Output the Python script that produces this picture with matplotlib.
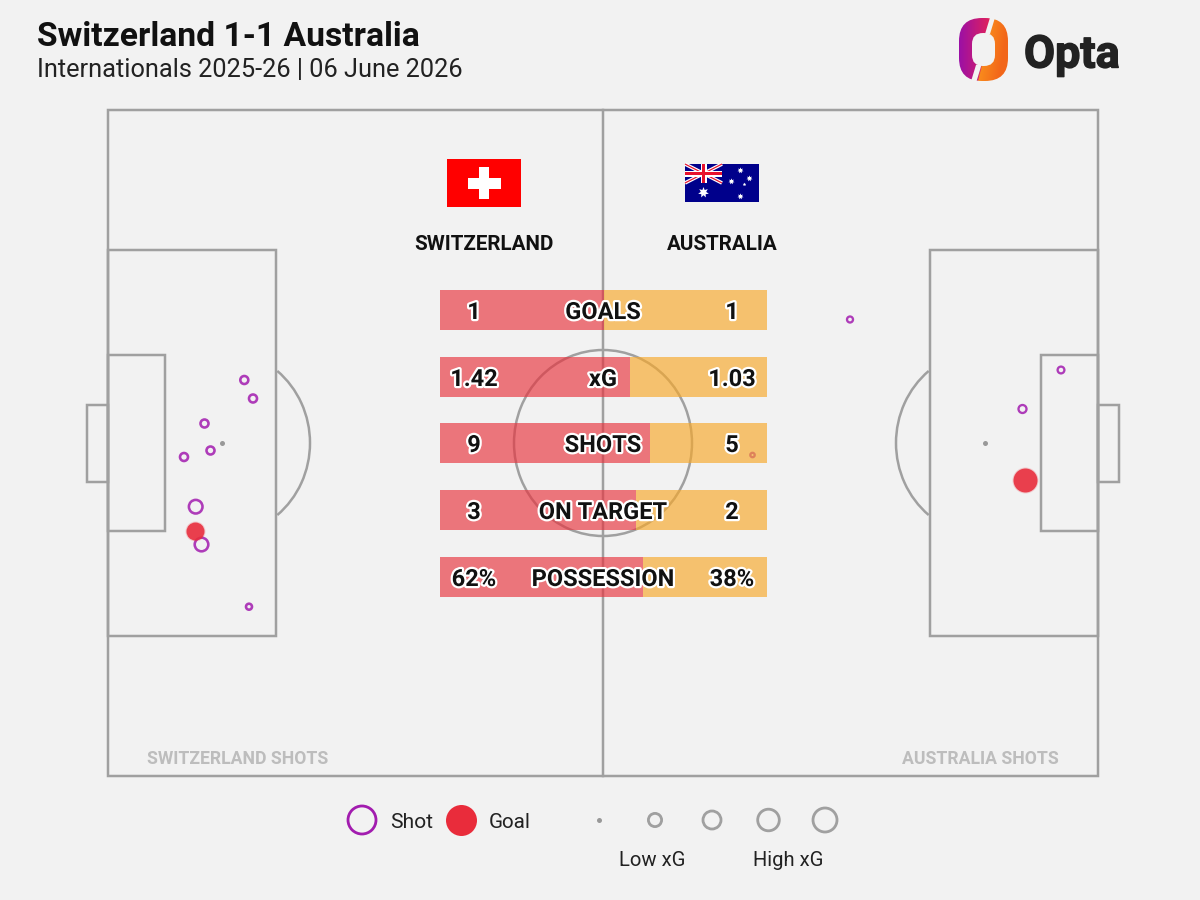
import numpy as np
import matplotlib
matplotlib.use("Agg")
import matplotlib.pyplot as plt
from matplotlib.patches import Rectangle, Arc, PathPatch, Polygon
from matplotlib.path import Path
import matplotlib.patheffects as pe

# ---- data ----
stat_names = ["GOALS", "xG", "SHOTS", "ON TARGET", "POSSESSION"]
home_values = [1, 1.42, 9, 3, 62]
away_values = [1, 1.03, 5, 2, 38]
home_labels = ["1", "1.42", "9", "3", "62%"]
away_labels = ["1", "1.03", "5", "2", "38%"]
stat_rows = [310, 377, 443, 510, 577]

home_shot_x = [244.3, 253, 204.5, 210.5, 184, 195.7, 201.5, 249, 221.5]
home_shot_y = [380, 398.5, 423.5, 450.5, 457, 506.7, 544.5, 606.7, 443]
home_shot_r = [4, 4, 4, 4, 4, 6.8, 6.8, 3, 2.5]
home_goal_x = [194.7]
home_goal_y = [531]
home_goal_r = [9]

away_shot_x = [850, 1061, 1022.5, 752.5, 984.5]
away_shot_y = [319.5, 370, 409, 455, 443]
away_shot_r = [3, 3.4, 4, 2.2, 2.5]
away_goal_x = [1025]
away_goal_y = [480]
away_goal_r = [12]

legend_size_x = [598.5, 655, 712, 768.5, 825]
legend_size_r = [2.5, 6.6, 9, 10.8, 12]

BG = "#F2F2F2"
LINE = "#A0A0A0"
PURPLE = "#A21CAF"
RED = "#E92C3B"
PX = 0.72
LW = 2.5 * PX
FONT = "Roboto"

fig = plt.figure(figsize=(12, 9), dpi=100, facecolor=BG)
ax = fig.add_axes([0, 0, 1, 1], facecolor=BG)
ax.set_xlim(0, 1200)
ax.set_ylim(900, 0)
ax.axis("off")


def rect(x0, y0, x1, y1, **kw):
    kw.setdefault("fill", False)
    kw.setdefault("ec", LINE)
    kw.setdefault("lw", LW)
    kw.setdefault("zorder", 1)
    p = Rectangle((x0, y0), x1 - x0, y1 - y0, **kw)
    ax.add_patch(p)
    return p


# ---- pitch ----
rect(108, 110, 1098, 776)
ax.plot([603, 603], [110, 776], color=LINE, lw=LW, zorder=1)
rect(108, 250, 276, 636)
rect(108, 355, 165, 531)
rect(87, 405, 108, 482)
rect(930, 250, 1098, 636)
rect(1041, 355, 1098, 531)
rect(1098, 405, 1119, 482)
ax.add_patch(Arc((603, 443), 178, 186, ec=LINE, lw=LW, zorder=1))
ax.add_patch(Arc((221, 443), 178, 186, theta1=-52, theta2=52, ec=LINE, lw=LW, zorder=1))
ax.add_patch(Arc((985, 443), 178, 186, theta1=128, theta2=232, ec=LINE, lw=LW, zorder=1))


def circles(xs, ys, rs, **kw):
    for x, y, r in zip(xs, ys, rs):
        s = (2 * r * PX) ** 2
        if r <= 2.5 and x not in (752.5,):
            ax.scatter([x], [y], s=s, color="#999999", lw=0, zorder=kw.get("zorder", 2))
        else:
            ax.scatter([x], [y], s=s, **kw)


# ---- shots ----
circles(home_shot_x, home_shot_y, home_shot_r, facecolor="none", edgecolor=PURPLE,
        linewidth=2.6 * PX, alpha=0.85, zorder=2)
circles(away_shot_x, away_shot_y, away_shot_r, facecolor="none", edgecolor=PURPLE,
        linewidth=2.3 * PX, alpha=0.85, zorder=2)
for gx, gy, gr in zip(home_goal_x + away_goal_x, home_goal_y + away_goal_y, home_goal_r + away_goal_r):
    ax.scatter([gx], [gy], s=(2 * (gr + 1) * PX) ** 2, color=RED, alpha=0.2, lw=0, zorder=3)
    ax.scatter([gx], [gy], s=(2 * gr * PX) ** 2, color=RED, alpha=0.88, lw=0, zorder=3)

# ---- stat bars ----
BAR_L, BAR_R, BAR_H = 440, 767, 40
stroke = [pe.withStroke(linewidth=3.2, foreground="white")]
for name, h, a, hl, al, y in zip(stat_names, home_values, away_values, home_labels, away_labels, stat_rows):
    split = BAR_L + (BAR_R - BAR_L) * h / (h + a)
    rect(BAR_L, y - BAR_H / 2, split, y + BAR_H / 2, fill=True, fc="#E8323C", ec="none", lw=0, alpha=0.65, zorder=4)
    rect(split, y - BAR_H / 2, BAR_R, y + BAR_H / 2, fill=True, fc="#F8A828", ec="none", lw=0, alpha=0.65, zorder=4)
    for tx, t in ((474, hl), (603, name), (732, al)):
        ax.text(tx, y, t, ha="center", va="center_baseline", fontsize=23.6 * PX, fontweight="bold",
                family=FONT, color="#111111", path_effects=stroke, zorder=6)

# ---- team names ----
ax.text(484, 243, "SWITZERLAND", ha="center", va="center_baseline", fontsize=20.6 * PX,
        fontweight="bold", family=FONT, color="#111111", zorder=6)
ax.text(722, 243, "AUSTRALIA", ha="center", va="center_baseline", fontsize=20.6 * PX,
        fontweight="bold", family=FONT, color="#111111", zorder=6)

# ---- Swiss flag ----
rect(447, 159, 521, 207, fill=True, fc="#FF0000", ec="none", lw=0, zorder=5)
rect(467.5, 177.5, 500.5, 188.5, fill=True, fc="white", ec="none", lw=0, zorder=6)
rect(478.8, 166.8, 489.2, 199.3, fill=True, fc="white", ec="none", lw=0, zorder=6)

# ---- Australian flag ----
rect(685, 164, 759, 202, fill=True, fc="#00008B", ec="none", lw=0, zorder=5)
u = (685, 164, 722, 183)
ax.plot([u[0], u[2]], [u[1], u[3]], color="white", lw=3.6 * PX, zorder=6, solid_capstyle="butt")
ax.plot([u[0], u[2]], [u[3], u[1]], color="white", lw=3.6 * PX, zorder=6, solid_capstyle="butt")
ax.plot([u[0], u[2]], [u[1], u[3]], color="#E8112D", lw=1.2 * PX, zorder=6, solid_capstyle="butt")
ax.plot([u[0], u[2]], [u[3], u[1]], color="#E8112D", lw=1.2 * PX, zorder=6, solid_capstyle="butt")
rect(685, 170.5, 722, 176.5, fill=True, fc="white", ec="none", lw=0, zorder=6)
rect(700.5, 164, 706.5, 183, fill=True, fc="white", ec="none", lw=0, zorder=6)
rect(685, 172, 722, 175, fill=True, fc="#E8112D", ec="none", lw=0, zorder=6)
rect(702, 164, 705, 183, fill=True, fc="#E8112D", ec="none", lw=0, zorder=6)
ax.scatter([703], [192], marker=(7, 1), s=62, color="white", lw=0, zorder=6)
ax.scatter([740, 731, 748.7, 740], [170, 180.7, 178, 195.7], marker=(7, 1), s=20, color="white", lw=0, zorder=6)
ax.scatter([744], [184.3], marker=(5, 1), s=7, color="white", lw=0, zorder=6)

# ---- titles ----
ax.text(37, 33.5, "Switzerland 1-1 Australia", ha="left", va="center_baseline", fontsize=33.7 * PX,
        fontweight="bold", family=FONT, color="#111111")
ax.text(37, 67.5, "Internationals 2025-26 | 06 June 2026", ha="left", va="center_baseline",
        fontsize=25.4 * PX, family=FONT, color="#222222")

# ---- corner captions ----
ax.text(147, 757, "SWITZERLAND SHOTS", ha="left", va="center_baseline", fontsize=17.6 * PX,
        fontweight="bold", family=FONT, color="#BDBDBD")
ax.text(1059, 757, "AUSTRALIA SHOTS", ha="right", va="center_baseline", fontsize=17.6 * PX,
        fontweight="bold", family=FONT, color="#BDBDBD")

# ---- legend ----
ax.scatter([362], [820], s=(2 * 14 * PX) ** 2, facecolor="none", edgecolor="#A21CAF", linewidth=2.8 * PX, zorder=3)
ax.scatter([460.5], [820], s=(2 * 15.5 * PX) ** 2, color=RED, lw=0, zorder=3)
ax.text(390, 820, "Shot", ha="left", va="center_baseline", fontsize=21 * PX, family=FONT, color="#222222")
ax.text(489, 820, "Goal", ha="left", va="center_baseline", fontsize=20.6 * PX, family=FONT, color="#222222")
for x, r in zip(legend_size_x, legend_size_r):
    if r <= 2.5:
        ax.scatter([x], [820], s=(2 * r * PX) ** 2, color="#999999", lw=0, zorder=3)
    else:
        ax.scatter([x], [820], s=(2 * r * PX) ** 2, facecolor="none", edgecolor="#A0A0A0", linewidth=2.8 * PX, zorder=3)
ax.text(652, 858, "Low xG", ha="center", va="center_baseline", fontsize=20.3 * PX, family=FONT, color="#222222")
ax.text(788, 858, "High xG", ha="center", va="center_baseline", fontsize=20.3 * PX, family=FONT, color="#222222")

# ---- Opta logo ----
lx0, lx1, ly0, ly1 = 958, 1009, 18, 81
nx, ny = 102, 126
gx = np.linspace(0, 1, nx)[None, :].repeat(ny, 0)
gy = np.linspace(0, 1, ny)[:, None].repeat(nx, 1)
c1 = np.array([0.60, 0.06, 0.66]); c2 = np.array([0.88, 0.13, 0.36])
c3 = np.array([1.00, 0.66, 0.12]); c4 = np.array([0.95, 0.40, 0.10])
left_img = c1[None, None] + (c2 - c1)[None, None] * np.clip(gx * 1.6, 0, 1)[..., None]
right_img = c3[None, None] + (c4 - c3)[None, None] * np.clip((gx - 0.3) * 1.4 + gy * 0.3, 0, 1)[..., None]
divide = (gx * (lx1 - lx0) + lx0) < (993 - 15 * gy)
img = np.where(divide[..., None], left_img, right_img)
im = ax.imshow(img, extent=(lx0, lx1, ly1, ly0), aspect="auto", zorder=5, interpolation="bilinear")
ax.set_xlim(0, 1200)
ax.set_ylim(900, 0)


def round_rect_verts(x0, y0, x1, y1, r, reverse=False):
    v = [(x0 + r, y0), (x1 - r, y0), (x1, y0), (x1, y0 + r), (x1, y1 - r), (x1, y1), (x1 - r, y1),
         (x0 + r, y1), (x0, y1), (x0, y1 - r), (x0, y0 + r), (x0, y0), (x0 + r, y0), (x0 + r, y0)]
    c = [Path.MOVETO, Path.LINETO, Path.CURVE3, Path.CURVE3, Path.LINETO, Path.CURVE3, Path.CURVE3,
         Path.LINETO, Path.CURVE3, Path.CURVE3, Path.LINETO, Path.CURVE3, Path.CURVE3, Path.CLOSEPOLY]
    if reverse:
        v = v[::-1]
        c = [Path.MOVETO, Path.LINETO, Path.CURVE3, Path.CURVE3, Path.LINETO, Path.CURVE3, Path.CURVE3,
             Path.LINETO, Path.CURVE3, Path.CURVE3, Path.LINETO, Path.CURVE3, Path.CURVE3, Path.CLOSEPOLY]
    return v, c


ov, oc = round_rect_verts(lx0 + 1, ly0, lx1 - 1, ly1, 23)
iv, ic = round_rect_verts(972, 33, 995, 66, 11, reverse=True)
ring = PathPatch(Path(ov + iv, oc + ic), transform=ax.transData, fc="none", ec="none")
ax.add_patch(ring)
im.set_clip_path(ring)
ax.add_patch(Polygon([(990.5, 16), (995.5, 16), (990, 34), (985, 34)], fc=BG, ec="none", zorder=6))
ax.add_patch(Polygon([(976, 65), (981.5, 65), (976, 83), (970.5, 83)], fc=BG, ec="none", zorder=6))
ax.text(1024, 51, "Opta", ha="left", va="center_baseline", fontsize=45 * PX, fontweight="bold",
        family=FONT, color="#222222", zorder=6,
        path_effects=[pe.withStroke(linewidth=1.0, foreground="#222222")])

fig.savefig("out.png", dpi=100, facecolor=BG)
